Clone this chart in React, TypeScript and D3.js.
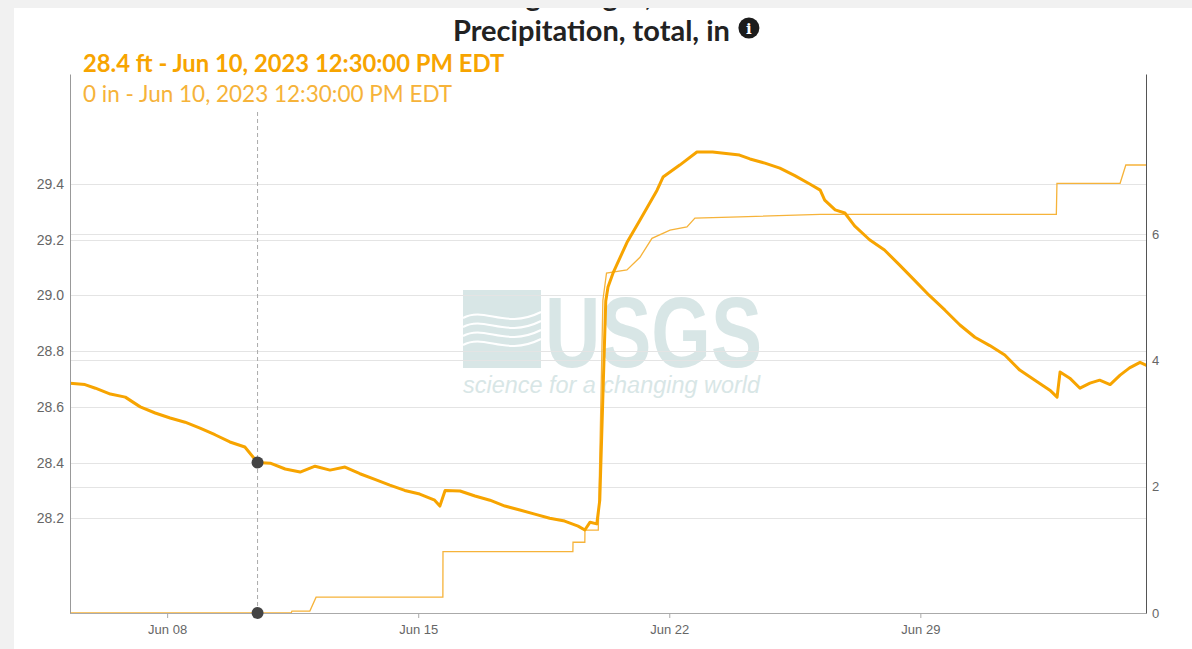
import React, { useEffect, useRef } from "react";
import * as d3 from "d3";

// gage height, ft
const gageTime = [
  "2023-06-05 07:00", "2023-06-05 17:00", "2023-06-06 00:00", "2023-06-06 10:00", "2023-06-06 20:00",
  "2023-06-07 06:00", "2023-06-07 16:00", "2023-06-08 02:00", "2023-06-08 12:00", "2023-06-08 22:00",
  "2023-06-09 08:00", "2023-06-09 18:00", "2023-06-10 04:00", "2023-06-10 12:30", "2023-06-10 21:00",
  "2023-06-11 07:00", "2023-06-11 17:00", "2023-06-12 03:00", "2023-06-12 13:00", "2023-06-12 23:00",
  "2023-06-13 09:00", "2023-06-13 19:00", "2023-06-14 05:00", "2023-06-14 15:00", "2023-06-15 01:00",
  "2023-06-15 11:00", "2023-06-15 14:30", "2023-06-15 18:00", "2023-06-16 04:00", "2023-06-16 14:00",
  "2023-06-17 00:00", "2023-06-17 10:00", "2023-06-17 20:00", "2023-06-18 06:00", "2023-06-18 16:00",
  "2023-06-19 02:00", "2023-06-19 11:00", "2023-06-19 15:30", "2023-06-19 19:00", "2023-06-19 23:30",
  "2023-06-20 01:30", "2023-06-20 03:30", "2023-06-20 05:30", "2023-06-20 07:00", "2023-06-20 10:20",
  "2023-06-20 19:40", "2023-06-21 04:20", "2023-06-21 15:50", "2023-06-21 19:50", "2023-06-22 07:00",
  "2023-06-22 18:30", "2023-06-23 05:00", "2023-06-23 23:00", "2023-06-24 06:00", "2023-06-24 16:00",
  "2023-06-25 02:00", "2023-06-25 12:00", "2023-06-25 22:00", "2023-06-26 05:00", "2023-06-26 08:00",
  "2023-06-26 15:00", "2023-06-26 21:30", "2023-06-27 04:00", "2023-06-27 14:00", "2023-06-28 00:00",
  "2023-06-28 10:00", "2023-06-28 20:00", "2023-06-29 06:00", "2023-06-29 16:30", "2023-06-30 02:30",
  "2023-06-30 12:30", "2023-06-30 22:30", "2023-07-01 08:30", "2023-07-01 18:30", "2023-07-02 04:40",
  "2023-07-02 14:40", "2023-07-02 19:30", "2023-07-02 21:30", "2023-07-03 04:00", "2023-07-03 10:50",
  "2023-07-03 17:30", "2023-07-04 00:00", "2023-07-04 07:00", "2023-07-04 13:40", "2023-07-04 20:00",
  "2023-07-05 03:00", "2023-07-05 07:00",
];
const gageFt = [
  28.685, 28.68, 28.667, 28.646, 28.635,
  28.60, 28.578, 28.56, 28.545, 28.524,
  28.50, 28.474, 28.456, 28.40, 28.398,
  28.377, 28.366, 28.387, 28.373, 28.384,
  28.36, 28.34, 28.319, 28.30, 28.287,
  28.265, 28.244, 28.30, 28.298, 28.28,
  28.265, 28.244, 28.23, 28.215, 28.20,
  28.19, 28.172, 28.158, 28.186, 28.18,
  28.265, 28.624, 28.98, 29.03, 29.08,
  29.19, 29.27, 29.378, 29.425, 29.468,
  29.515, 29.515, 29.504, 29.49, 29.475,
  29.457, 29.43, 29.40, 29.378, 29.342,
  29.307, 29.296, 29.25, 29.20, 29.163,
  29.11, 29.055, 29.00, 28.947, 28.894,
  28.85, 28.82, 28.786, 28.732, 28.696,
  28.66, 28.635, 28.725, 28.703, 28.667,
  28.685, 28.696, 28.68, 28.714, 28.74,
  28.76, 28.75,
];

// precipitation, total (cumulative), in
const precipTime = [
  "2023-06-05 07:00", "2023-06-11 11:00", "2023-06-11 11:30", "2023-06-11 23:30", "2023-06-12 03:40",
  "2023-06-15 16:30", "2023-06-15 16:35", "2023-06-19 07:30", "2023-06-19 07:35", "2023-06-19 15:30",
  "2023-06-19 15:35", "2023-06-20 00:30", "2023-06-20 03:35", "2023-06-20 06:00", "2023-06-20 19:40",
  "2023-06-21 04:25", "2023-06-21 12:25", "2023-06-22 00:30", "2023-06-22 11:50", "2023-06-22 17:10",
  "2023-06-23 23:00", "2023-06-26 05:00", "2023-07-02 19:00", "2023-07-02 19:25", "2023-07-04 13:40",
  "2023-07-04 17:30", "2023-07-05 07:00",
];
const precipIn = [
  0, 0, 0.03, 0.03, 0.25,
  0.25, 0.97, 0.97, 1.12, 1.12,
  1.31, 1.31, 4.95, 5.38, 5.43,
  5.63, 5.93, 6.06, 6.11, 6.25,
  6.27, 6.31, 6.31, 6.80, 6.80,
  7.09, 7.09,
];

const leftTicks = [28.2, 28.4, 28.6, 28.8, 29.0, 29.2, 29.4];
const rightTicks = [0, 2, 4, 6];
const xTicks = ["2023-06-08 00:00", "2023-06-15 00:00", "2023-06-22 00:00", "2023-06-29 00:00"];
const xDomain = ["2023-06-05 07:00", "2023-07-05 07:00"];

const hoverTime = "2023-06-10 12:30";
const hoverFt = 28.4;
const hoverIn = 0;

var width = 1192;
var height = 649;
var left = 70;
var right = 1146;
var top = 74;
var bottom = 613;

var gageColor = "#f7a400";
var precipColor = "#f6b33a";
var tickFont = "'Liberation Sans', Arial, sans-serif";
var titleFont = "Lato, 'Open Sans', sans-serif";

export default function App() {
  const ref = useRef<SVGSVGElement>(null);

  useEffect(() => {
    const parse = d3.timeParse("%Y-%m-%d %H:%M");
    const svg = d3.select(ref.current);
    svg.selectAll("*").remove();

    var x = d3.scaleTime()
      .domain(xDomain.map(d => parse(d)))
      .range([left, right]);
    var yL = d3.scaleLinear().domain([27.86, 29.795]).range([bottom, top]);
    var yR = d3.scaleLinear().domain([0, 8.53]).range([bottom, top]);

    /* page + card */
    svg.append("rect").attr("width", width).attr("height", height).attr("fill", "#f1f1f1");
    svg.append("rect").attr("x", 14).attr("y", 8).attr("width", width - 14).attr("height", height - 8).attr("fill", "#fff");

    const defs = svg.append("defs");
    defs.append("clipPath").attr("id", "card").append("rect")
      .attr("x", 14).attr("y", 8).attr("width", width - 14).attr("height", height - 8);
    defs.append("clipPath").attr("id", "plot").append("rect")
      .attr("x", left).attr("y", top).attr("width", right - left).attr("height", bottom - top + 2);

    /* titles (first line scrolled off the top of the card) */
    svg.append("text")
      .attr("clip-path", "url(#card)")
      .attr("x", 600).attr("y", 6)
      .attr("text-anchor", "middle")
      .style("font-family", titleFont).style("font-weight", "bold").style("font-size", "29px")
      .attr("fill", "#222")
      .text("Gage height, feet");

    const title = svg.append("text")
      .attr("x", 453).attr("y", 41)
      .style("font-family", titleFont).style("font-weight", "bold").style("font-size", "29px")
      .attr("fill", "#222")
      .text("Precipitation, total, in");
    const tw = (title.node() as SVGTextElement).getComputedTextLength();
    svg.append("circle").attr("cx", 453 + tw + 19).attr("cy", 28).attr("r", 10.5).attr("fill", "#1c1c1c");
    svg.append("text")
      .attr("x", 453 + tw + 19).attr("y", 34)
      .attr("text-anchor", "middle")
      .style("font-family", "'DejaVu Serif', serif").style("font-weight", "bold").style("font-size", "15px")
      .attr("fill", "#fff").text("i");

    /* watermark */
    const wm = svg.append("g").attr("fill", "#d8e6e6");
    wm.append("rect").attr("x", 463).attr("y", 290).attr("width", 78).attr("height", 78);
    [0, 1, 2, 3].forEach(i => {
      wm.append("path")
        .attr("d", `M463,${318 + i * 9} C485,${306 + i * 9} 505,${330 + i * 9} 541,${312 + i * 9}`)
        .attr("fill", "none").attr("stroke", "#fff").attr("stroke-width", 2);
    });
    wm.append("text")
      .attr("x", 545).attr("y", 367)
      .attr("textLength", 217).attr("lengthAdjust", "spacingAndGlyphs")
      .style("font-family", "'Liberation Sans Narrow', 'Liberation Sans', sans-serif")
      .style("font-weight", "bold").style("font-size", "100px")
      .text("USGS");
    wm.append("text")
      .attr("x", 463).attr("y", 393)
      .attr("textLength", 297).attr("lengthAdjust", "spacingAndGlyphs")
      .style("font-family", "'Liberation Sans', sans-serif")
      .style("font-style", "italic").style("font-size", "23px")
      .text("science for a changing world");

    /* grid */
    const grid = svg.append("g").attr("stroke", "#e4e4e4").attr("stroke-width", 1);
    leftTicks.forEach(t => {
      grid.append("line").attr("x1", left).attr("x2", right)
        .attr("y1", Math.round(yL(t)) + 0.5).attr("y2", Math.round(yL(t)) + 0.5);
    });
    rightTicks.filter(t => t > 0).forEach(t => {
      grid.append("line").attr("x1", left).attr("x2", right)
        .attr("y1", Math.round(yR(t)) + 0.5).attr("y2", Math.round(yR(t)) + 0.5);
    });

    /* lines */
    const lines = svg.append("g").attr("clip-path", "url(#plot)");
    const precip = precipTime.map((d, i) => ({ x: parse(d), y: precipIn[i] }));
    const gage = gageTime.map((d, i) => ({ x: parse(d), y: gageFt[i] }));

    lines.append("path")
      .attr("d", d3.line<any>().x(d => x(d.x)).y(d => yR(d.y))(precip))
      .attr("fill", "none").attr("stroke", precipColor).attr("stroke-width", 1.3);
    lines.append("path")
      .attr("d", d3.line<any>().x(d => x(d.x)).y(d => yL(d.y))(gage))
      .attr("fill", "none").attr("stroke", gageColor).attr("stroke-width", 3)
      .attr("stroke-linejoin", "round").attr("stroke-linecap", "round");

    /* axes */
    const xAxis = svg.append("g")
      .attr("transform", `translate(0, ${bottom})`)
      .call(d3.axisBottom(x)
        .tickValues(xTicks.map(d => parse(d)))
        .tickFormat(d3.timeFormat("%b %d") as any)
        .tickSize(5).tickSizeOuter(0).tickPadding(7));
    const yAxis = svg.append("g")
      .attr("transform", `translate(${left}, 0)`)
      .call(d3.axisLeft(yL).tickValues(leftTicks).tickFormat(d3.format(".1f"))
        .tickSize(0).tickPadding(6));
    const rAxis = svg.append("g")
      .attr("transform", `translate(${right}, 0)`)
      .call(d3.axisRight(yR).tickValues(rightTicks).tickFormat(d3.format("d"))
        .tickSize(0).tickPadding(6));

    [xAxis, yAxis, rAxis].forEach(a => {
      a.selectAll("text").attr("fill", "#666").style("font-family", tickFont).style("font-size", "13px");
      a.selectAll("line").attr("stroke", "#aaa");
    });
    yAxis.selectAll("text").style("font-size", "14px");
    xAxis.select(".domain").attr("stroke", "#aaa");
    yAxis.select(".domain").attr("stroke", "#999");
    rAxis.select(".domain").attr("stroke", "#555");

    /* hover */
    const hx = x(parse(hoverTime));
    svg.append("line")
      .attr("x1", hx).attr("x2", hx).attr("y1", 112).attr("y2", bottom)
      .attr("stroke", "#aaa").attr("stroke-dasharray", "4,3");
    svg.append("circle").attr("cx", hx).attr("cy", yL(hoverFt)).attr("r", 6).attr("fill", "#444");
    svg.append("circle").attr("cx", hx).attr("cy", yR(hoverIn)).attr("r", 6).attr("fill", "#444");

    const fmt = d3.timeFormat("%b %d, %Y %I:%M:%S %p");
    svg.append("text")
      .attr("x", 83).attr("y", 72)
      .style("font-family", titleFont).style("font-weight", "bold").style("font-size", "23.8px")
      .attr("fill", gageColor)
      .text(`${hoverFt} ft - ${fmt(parse(hoverTime) as Date)} EDT`);
    svg.append("text")
      .attr("x", 83).attr("y", 102)
      .style("font-family", titleFont).style("font-size", "22.5px")
      .attr("fill", precipColor)
      .text(`${hoverIn} in - ${fmt(parse(hoverTime) as Date)} EDT`);
  }, []);

  return (
    <svg ref={ref} width={width} height={height}
      style={{ position: "absolute", left: 0, top: 0, display: "block" }} />
  );
}
